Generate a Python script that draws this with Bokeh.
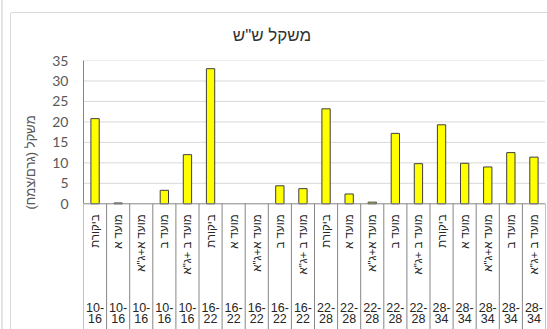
import math

from bokeh.core.properties import value
from bokeh.embed import file_html
from bokeh.layouts import column, row
from bokeh.models import ColumnDataSource, Div, FixedTicker, LinearAxis, Range1d
from bokeh.plotting import figure
from bokeh.resources import INLINE

# --- data -------------------------------------------------------------
periods = ["10-16"] * 5 + ["16-22"] * 5 + ["22-28"] * 5 + ["28-34"] * 5
treatments = ["ביקורת", "מועד א", "מועד א+ג\"א", "מועד ב", "מועד ב +ג\"א"] * 4
weights = [20.8, 0.2, 0.0, 3.3, 12.0,
           33.0, 0.0, 0.0, 4.4, 3.7,
           23.2, 2.4, 0.4, 17.2, 9.8,
           19.3, 9.9, 9.0, 12.5, 11.4]
y_ticks = [0, 5, 10, 15, 20, 25, 30, 35]

title_text = "משקל ש\"ש"
y_title = "משקל (גרם/צמח)\u200f"

# --- geometry -----------------------------------------------------------
n = len(weights)
Y_TOP = 35
Y_BOTTOM = -30.7          # room below zero for the two rows of category labels

HEB = "Liberation Sans"
NUM = "Lato"

W_LABEL = 34              # strip holding the vertical axis title
H_TITLE = 39              # strip holding the chart title
TOP_PAD = 8               # space above the plot frame for the top tick label
W_MAIN = 536 - W_LABEL
H_MAIN = 316 - H_TITLE


def text_strip(width, height):
    """A bare figure whose data units are pixels, used to hold a text."""
    f = figure(width=width, height=height, output_backend="svg",
               toolbar_location=None, x_range=Range1d(0, width),
               y_range=Range1d(0, height), x_axis_type=None, y_axis_type=None,
               min_border=0, background_fill_color="white",
               border_fill_color="white", outline_line_color=None)
    f.xgrid.visible = False
    f.ygrid.visible = False
    return f


centers = [i + 0.5 for i in range(n)]
top_line = [p.split("-")[0] + "-" for p in periods]
bottom_line = [p.split("-")[1] for p in periods]

labels = ColumnDataSource(dict(x=centers, treat=treatments,
                               top=top_line, bot=bottom_line))
# empty cells get no bar at all
bars = ColumnDataSource(dict(x=[c for c, w in zip(centers, weights) if w > 0],
                             w=[w for w in weights if w > 0]))

p = figure(width=W_MAIN, height=H_MAIN, output_backend="svg", toolbar_location=None,
           x_range=Range1d(0, n), y_range=Range1d(Y_BOTTOM, Y_TOP),
           x_axis_type=None, y_axis_type=None,
           min_border_left=72 - W_LABEL, min_border_right=2,
           min_border_top=TOP_PAD, min_border_bottom=0,
           background_fill_color="white", border_fill_color="white",
           outline_line_color=None)

# value axis, limited to 0..35
yax = LinearAxis(ticker=FixedTicker(ticks=y_ticks), bounds=(0, Y_TOP),
                 axis_line_color="#868686", axis_line_width=1,
                 major_tick_line_color=None, minor_tick_line_color=None,
                 major_label_text_font=NUM, major_label_text_font_size="14px",
                 major_label_text_color="#595959", major_label_standoff=9)
p.add_layout(yax, "left")

# horizontal gridlines
p.segment(x0=[0] * len(y_ticks[1:]), x1=[n] * len(y_ticks[1:]),
          y0=y_ticks[1:], y1=y_ticks[1:], line_color="#d9d9d9", line_width=1)

# bars
p.vbar(x="x", top="w", bottom=0, width=0.36, source=bars,
       fill_color="#ffff00", line_color="#3f3f3f", line_width=1)

# category axis: baseline and dividers running down through the labels
p.segment(x0=[0], x1=[n], y0=[0], y1=[0], line_color="#868686", line_width=1)
p.segment(x0=list(range(n + 1)), x1=list(range(n + 1)),
          y0=[0] * (n + 1), y1=[Y_BOTTOM] * (n + 1),
          line_color="#868686", line_width=1)

# inner labels (treatment), vertical
p.text(x="x", y=-2.6, text="treat", source=labels, angle=math.pi / 2,
       text_align="right", text_baseline="middle",
       text_font=value(HEB), text_font_size="11.5px", text_color="#262626")

# outer labels (period), wrapped over two lines
p.text(x="x", y=-25.4, text="top", source=labels, text_align="center",
       text_baseline="middle", text_font=value(HEB), text_font_size="12.5px",
       text_color="#262626")
p.text(x="x", y=-28.1, text="bot", source=labels, text_align="center",
       text_baseline="middle", text_font=value(HEB), text_font_size="12.5px",
       text_color="#262626")

# chart title strip
t = text_strip(536, H_TITLE)
t.text(x=[260.5], y=[H_TITLE - 22], text=[title_text], text_align="center",
       text_baseline="middle", text_font=value(HEB), text_font_size="17px",
       text_color="#333333")

# axis title strip
a = text_strip(W_LABEL, H_MAIN)
a.text(x=[19], y=[H_MAIN - 105], text=[y_title], angle=math.pi / 2,
       text_align="center", text_baseline="middle", text_font=value(HEB),
       text_font_size="13px", text_color="#595959")

# surrounding chart-area border and neighbouring edge
left = Div(width=11, height=329, margin=0, text=(
    '<div style="position:relative;width:11px;height:329px">'
    '<div style="position:absolute;left:1px;top:0;width:2px;height:329px;background:#e4e4e4"></div>'
    '<div style="position:absolute;left:10px;top:13px;width:1px;height:316px;background:#d9d9d9"></div>'
    '</div>'))
top = Div(width=536, height=13, margin=0, text=(
    '<div style="position:relative;width:536px;height:13px">'
    '<div style="position:absolute;left:0;top:12px;width:536px;height:1px;background:#d9d9d9"></div>'
    '</div>'))

layout = row(left, column(top, t, row(a, p, spacing=0), spacing=0), spacing=0)

open("out.html", "w").write(file_html(layout, INLINE))
